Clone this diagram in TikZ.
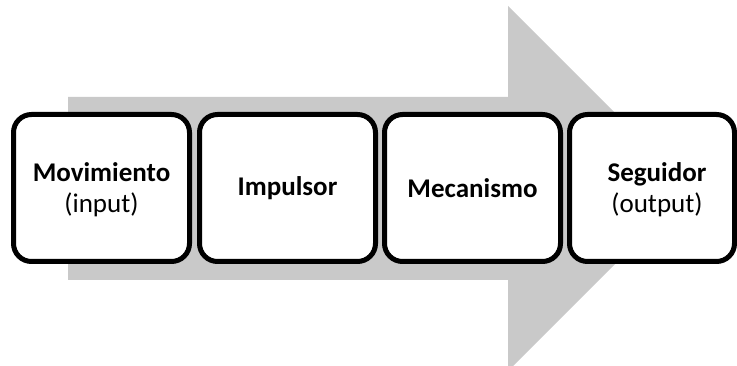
\documentclass[tikz,border=0pt]{standalone}
\usepackage{fontspec}
\setmainfont{Carlito}
\definecolor{arrowgrey}{RGB}{201,201,201}
\tikzset{
  stagebox/.style={draw=black, line width=5pt, rounded corners=18pt, fill=white},
  stagetext/.style={align=center, inner sep=0pt, font=\fontsize{27}{31}\selectfont},
}
\begin{document}
\begin{tikzpicture}[x=1pt, y=-1pt]
  \useasboundingbox (0,0) rectangle (737,366);
  % wide grey process arrow behind the stages
  \begin{scope}
    \clip (0,0) rectangle (737,366);
    \fill[arrowgrey] (68,97) -- (508,97) -- (508,6) -- (690.5,188.5)
      -- (508,371) -- (508,280) -- (68,280) -- cycle;
  \end{scope}
  % stage boxes
  \draw[stagebox] (13.5,114.5) rectangle (189.5,261.5);
  \draw[stagebox] (199.5,114.5) rectangle (375.5,261.5);
  \draw[stagebox] (384.5,114.5) rectangle (560.5,261.5);
  \draw[stagebox] (569.5,114.5) rectangle (734.5,261.5);
  % stage labels
  \node[stagetext] (mov) at (101.5,190) {\textbf{Movimiento}\\(input)};
  \node[stagetext] (imp) at (287.5,188) {\textbf{Impulsor}};
  \node[stagetext] (mec) at (472.5,188) {\textbf{Mecanismo}};
  \node[stagetext] (seg) at (657,190) {\textbf{Seguidor}\\(output)};
\end{tikzpicture}
\end{document}
